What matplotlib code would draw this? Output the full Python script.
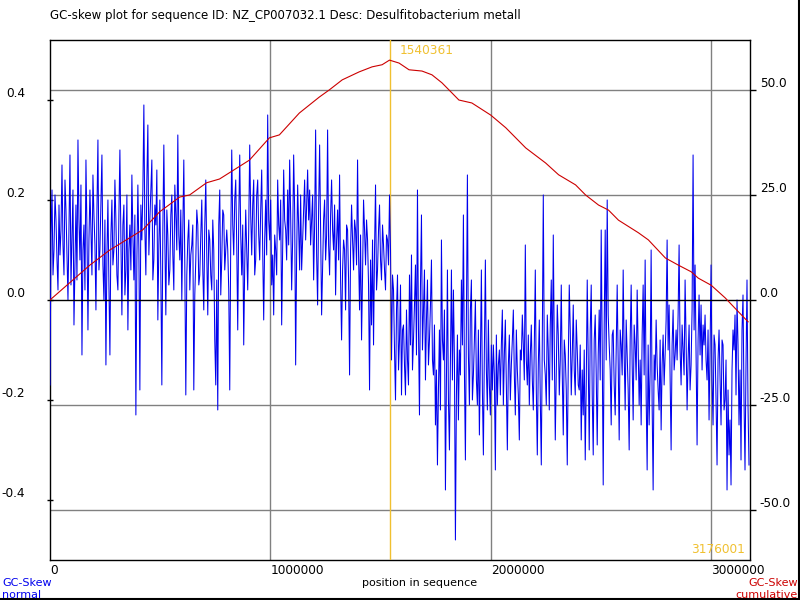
#GC-skew plot (normal + cumulative)
import matplotlib
matplotlib.use('Agg')
import matplotlib.pyplot as plt
from matplotlib.lines import Line2D
import numpy as np

plt.rcParams['font.family'] = ['DejaVu Sans']
plt.rcParams['axes.unicode_minus'] = False

seq_id = 'NZ_CP007032.1'
seq_desc = 'Desulfitobacterium metall'
seq_len = 3176001
max_pos = 1540361

#GC skew per window, read from left to right
gc_skew = [
    # 0 - 0.8 Mb
    -0.17, 0.13, 0.22, 0.05, 0.10, 0.21, 0.16, 0.08, 0.02, 0.19, 0.09, 0.14, 0.27, 0.11, 0.05, 0.24, 0.18, 0.09, 0.0, 0.14,
    0.29, 0.03, 0.12, 0.22, -0.05, 0.07, 0.19, 0.04, 0.32, 0.16, 0.08, 0.23, -0.11, 0.10, 0.15, 0.02, 0.28, 0.14, -0.06, 0.12,
    0.22, 0.14, 0.05, 0.25, 0.17, 0.11, -0.02, 0.18, 0.32, 0.06, 0.10, 0.19, 0.29, 0.07, 0.0, 0.16, -0.13, 0.09, 0.20, 0.03,
    -0.11, 0.13, 0.20, 0.07, 0.10, 0.24, 0.16, 0.05, 0.02, 0.17, 0.30, 0.12, -0.03, 0.15, 0.19, 0.01, 0.06, 0.21, -0.06, 0.10,
    0.15, 0.06, 0.25, 0.13, 0.04, 0.17, -0.23, 0.08, 0.23, 0.10, -0.18, 0.19, 0.12, 0.22, 0.39, 0.14, 0.05, 0.24, 0.35, 0.09,
    0.16, 0.22, 0.28, 0.04, 0.08, 0.19, 0.15, 0.26, -0.04, 0.11, 0.20, 0.05, -0.17, 0.14, 0.31, 0.12, -0.03, 0.18, 0.13, 0.03,
    0.06, 0.17, 0.21, 0.09, 0.02, 0.23, 0.17, 0.10, 0.33, 0.13, 0.08, 0.18, 0.0, 0.14, 0.28, 0.07, -0.19, 0.05, 0.12, 0.16,
    0.02, 0.09, 0.11, 0.15, -0.18, 0.01, 0.08, 0.18, 0.15, 0.03, 0.05, 0.13, 0.20, 0.06, -0.02, 0.15, 0.24, 0.09, -0.03, 0.14,
    0.12, 0.05, 0.02, 0.16, 0.10, -0.08, -0.17, 0.04, -0.22, 0.15, 0.22, 0.01, 0.08, 0.18, 0.17, 0.06, 0.10, 0.14,
    # 0.8 - 1.6 Mb
    0.10, 0.02, -0.18, 0.12, 0.30, 0.15, 0.09, 0.20, 0.24, 0.11, -0.06, 0.16, 0.29, 0.13, 0.05, 0.15, -0.09, 0.07, 0.18, 0.10,
    0.02, 0.14, 0.31, 0.17, 0.09, 0.19, 0.24, 0.05, 0.08, 0.21, 0.24, 0.13, 0.08, 0.18, 0.26, 0.10, -0.04, 0.12, 0.20, 0.09,
    0.37, 0.16, 0.12, 0.20, 0.03, 0.09, -0.03, 0.13, 0.10, 0.05, 0.24, 0.15, 0.12, 0.20, -0.05, 0.11, 0.26, 0.16, 0.14, 0.08,
    0.22, 0.11, 0.28, 0.17, 0.02, 0.12, 0.29, 0.18, -0.13, 0.09, 0.23, 0.14, 0.06, 0.21, 0.06, 0.12, 0.18, 0.24, 0.12, 0.19,
    0.26, 0.16, 0.22, 0.11, 0.16, 0.21, 0.04, 0.15, 0.34, 0.09, -0.01, 0.18, 0.31, 0.14, -0.03, 0.07, 0.16, 0.20, 0.08, 0.13,
    0.34, 0.11, 0.05, 0.17, 0.24, 0.14, 0.10, 0.19, 0.01, 0.12, 0.18, 0.08, 0.25, 0.04, -0.08, 0.06, 0.12, 0.10, -0.02, 0.15,
    0.14, 0.04, -0.15, 0.10, 0.19, 0.12, 0.06, 0.16, 0.14, 0.07, 0.28, 0.09, -0.02, 0.13, -0.08, 0.05, 0.20, 0.14, 0.07, 0.16,
    0.12, 0.03, -0.18, 0.08, -0.05, 0.12, -0.09, 0.10, 0.23, 0.02, 0.06, 0.14, 0.19, 0.08, 0.04, 0.15, 0.11, 0.06, 0.02, 0.13,
    0.12, 0.07, 0.21, 0.10, -0.12, 0.05, 0.02, -0.10, -0.20, -0.02, 0.05, -0.14, -0.08, 0.03, -0.19, -0.06,
    # 1.6 - 2.4 Mb
    -0.05, -0.13, -0.19, -0.02, -0.12, -0.17, 0.05, -0.09, 0.09, -0.14, -0.08, -0.01, 0.07, -0.11, 0.22, -0.06, -0.23, 0.03, 0.17, -0.10,
    -0.02, 0.06, -0.16, -0.04, 0.04, -0.13, -0.08, -0.01, 0.08, -0.12, -0.15, -0.05, -0.25, -0.14, -0.33, -0.18, -0.06, -0.22, 0.12, -0.08,
    -0.12, -0.02, -0.38, -0.15, 0.06, -0.20, -0.30, -0.11, 0.06, -0.16, 0.02, -0.12, -0.48, -0.19, -0.07, -0.24, -0.10, -0.15, 0.04, -0.09,
    0.17, -0.14, -0.32, -0.05, 0.25, -0.11, -0.21, -0.02, 0.04, -0.20, -0.15, -0.08, 0.0, -0.16, -0.21, -0.06, -0.27, -0.12, 0.06, -0.18,
    -0.31, -0.10, 0.08, -0.14, -0.22, -0.04, -0.17, -0.23, -0.09, -0.18, -0.09, -0.15, -0.34, -0.07, -0.21, -0.13, -0.10, -0.19, -0.09, -0.02,
    -0.21, -0.11, -0.04, -0.17, -0.30, -0.13, -0.07, -0.20, -0.13, -0.08, -0.02, -0.15, -0.23, -0.06, -0.14, -0.19, -0.28, -0.10, -0.12, -0.03,
    -0.09, -0.16, 0.11, -0.12, -0.17, -0.07, -0.21, -0.11, -0.05, -0.16, -0.22, -0.09, 0.06, -0.18, -0.31, -0.13, -0.04, -0.20, -0.33, -0.08,
    0.21, -0.12, -0.15, -0.21, -0.03, -0.10, -0.22, -0.05, 0.04, -0.16, 0.13, -0.09, -0.28, -0.14, -0.01, -0.07, -0.19, -0.12, 0.03, -0.15,
    -0.27, -0.08, -0.11, -0.18, -0.33, -0.13, 0.03, -0.06, -0.19, -0.11, -0.01, -0.14, -0.19, -0.04, -0.10, -0.17,
    # 2.4 Mb - end
    -0.18, -0.09, -0.28, -0.14, -0.23, -0.10, -0.32, -0.17, 0.04, -0.12, -0.30, -0.06, 0.03, -0.19, -0.31, -0.08, -0.03, -0.15, -0.29, -0.11,
    -0.02, -0.16, 0.14, -0.10, -0.37, -0.05, 0.14, -0.12, 0.20, -0.03, -0.09, -0.14, -0.25, -0.07, -0.06, -0.17, -0.23, -0.10, 0.03, -0.13,
    -0.28, -0.06, -0.09, -0.15, 0.06, -0.11, -0.22, -0.04, -0.11, -0.18, -0.30, -0.08, 0.03, -0.13, -0.24, -0.05, -0.09, -0.16, 0.02, -0.10,
    -0.21, -0.12, -0.25, -0.07, 0.03, -0.15, 0.08, -0.19, -0.34, -0.09, -0.25, -0.14, 0.10, -0.21, -0.38, -0.11, -0.16, -0.04, -0.13, -0.18,
    -0.22, -0.08, -0.26, -0.13, -0.07, -0.17, -0.11, -0.04, 0.12, -0.10, -0.01, -0.15, -0.30, -0.09, -0.02, -0.14, -0.11, -0.06, -0.12, -0.03,
    0.11, -0.10, -0.17, -0.05, -0.10, -0.15, 0.04, -0.08, -0.22, -0.12, -0.05, -0.18, -0.13, -0.02, 0.29, -0.06, 0.07, -0.12, -0.29, -0.08,
    0.01, -0.11, -0.01, -0.14, -0.05, -0.09, -0.03, -0.12, -0.16, -0.06, -0.24, -0.10, 0.07, -0.16, -0.25, -0.07, -0.09, -0.20, -0.33, -0.12,
    -0.06, -0.15, -0.25, -0.08, -0.09, -0.22, -0.20, -0.12, -0.38, -0.18, -0.31, -0.24, -0.37, -0.14, -0.06, -0.10, -0.03, -0.19, 0.0, -0.09,
    -0.25, -0.14, -0.32, -0.06, 0.01, -0.20, -0.34, -0.13, 0.04, -0.21, -0.33,
]

#cumulative GC skew
cum_pos = [0, 181000, 271500, 420800, 497700, 588200, 633500, 710400, 769200, 905000,
           995500, 1040700, 1131200, 1221700, 1267000, 1325800, 1402700, 1461500, 1506800, 1540361,
           1583700, 1629000, 1687800, 1733000, 1778300, 1823500, 1855200, 1914000, 2000000, 2067900,
           2158400, 2248900, 2307700, 2384600, 2429900, 2488700, 2533900, 2579200, 2669700, 2714900,
           2791900, 2850700, 2909500, 2941200, 3000000, 3063300, 3108600, 3167400]
cum_skew = [0, 8.3, 11.9, 16.7, 21.0, 24.5, 25.0, 27.9, 28.8, 33.3,
            38.6, 39.3, 44.5, 48.3, 50.0, 52.4, 54.3, 55.5, 56.0, 57.1,
            56.4, 54.8, 54.5, 53.6, 51.7, 49.3, 47.6, 46.9, 44.0, 41.0,
            36.2, 32.6, 29.8, 27.4, 25.0, 22.6, 21.4, 19.0, 16.0, 14.3,
            10.0, 8.3, 6.7, 5.2, 3.5, 0.5, -2.0, -5.2]

x_ticks = [0, 1000000, 2000000, 3000000]
left_ticks = [-0.4, -0.2, 0.0, 0.2, 0.4]
right_ticks = [-50.0, -25.0, 0.0, 25.0, 50.0]

positions = np.arange(len(gc_skew)) * (seq_len / len(gc_skew))

fig = plt.figure(figsize=(8, 6), dpi=100)
rect = [0.0625, 0.0667, 0.875, 0.8667]

#axis for the grid / right ticks (bottom layer)
axc = fig.add_axes(rect)
ax = axc.twinx()
axr = axc.twinx()
axc.set_zorder(0)
ax.set_zorder(1)
axr.set_zorder(2)
ax.patch.set_visible(False)
axr.patch.set_visible(False)

axc.set_xlim(0, seq_len)
axc.set_ylim(-61.9, 61.9)
ax.set_ylim(-0.52, 0.52)
axr.set_ylim(-61.9, 61.9)

#grid lines
for t in x_ticks[1:]:
    axc.axvline(t, color='#808080', lw=1, zorder=0)
for t in right_ticks:
    if t != 0:
        axc.axhline(t, color='#808080', lw=1, zorder=0)

#right axis (cumulative)
axc.yaxis.tick_right()
axc.set_yticks(right_ticks)
axc.set_yticklabels(['%.1f' % v for v in right_ticks], fontsize=8.7)
axc.tick_params(axis='y', direction='out', length=4, pad=3, width=1)
for lab in axc.get_yticklabels():
    lab.set_va('bottom')
axc.set_xticks(x_ticks)
axc.set_xticklabels([str(v) for v in x_ticks], fontsize=8.7, ha='left')
axc.tick_params(axis='x', length=0, pad=3)
for s in axc.spines.values():
    s.set_color('black')
    s.set_linewidth(1)

#left axis (normal skew)
ax.yaxis.tick_left()
ax.set_yticks(left_ticks)
ax.set_yticklabels(['%.1f' % v for v in left_ticks], fontsize=8.7)
ax.tick_params(axis='y', direction='inout', length=4, pad=16, width=1)
for lab in ax.get_yticklabels():
    lab.set_va('bottom')
for s in ax.spines.values():
    s.set_visible(False)

ax.axvline(max_pos, color='#f0c030', lw=1, zorder=1)
ax.plot(positions, gc_skew, color='#0000ee', lw=0.75, zorder=2)
ax.axhline(0, color='black', lw=1, zorder=3)
ax.annotate(str(max_pos), xy=(max_pos, 0.52), xytext=(7, -3), textcoords='offset points',
            color='#f0c030', fontsize=8.7, ha='left', va='top')
ax.annotate(str(seq_len), xy=(seq_len, -0.52), xytext=(-4, 3), textcoords='offset points',
            color='#f0c030', fontsize=8.7, ha='right', va='bottom')

axr.plot(cum_pos, cum_skew, color='#cc0000', lw=0.8)
axr.axis('off')

#texts
fig.text(0.063, 0.975, 'GC-skew plot for sequence ID: %s Desc: %s' % (seq_id, seq_desc),
         fontsize=8.5, ha='left', va='center')
fig.text(0.524, 0.028, 'position in sequence', fontsize=8, ha='center', va='center')
fig.text(0.003, 0.028, 'GC-Skew', color='#0000ee', fontsize=8, ha='left', va='center')
fig.text(0.003, 0.009, 'normal', color='#0000ee', fontsize=8, ha='left', va='center')
fig.text(0.997, 0.028, 'GC-Skew', color='#cc0000', fontsize=8, ha='right', va='center')
fig.text(0.997, 0.009, 'cumulative', color='#cc0000', fontsize=8, ha='right', va='center')

#frame at bottom and right edge of the picture
fig.add_artist(Line2D([0, 1], [0.001, 0.001], color='black', lw=1.5, transform=fig.transFigure))
fig.add_artist(Line2D([0.999, 0.999], [0, 1], color='black', lw=1.5, transform=fig.transFigure))

fig.savefig('out.png', dpi=100)
